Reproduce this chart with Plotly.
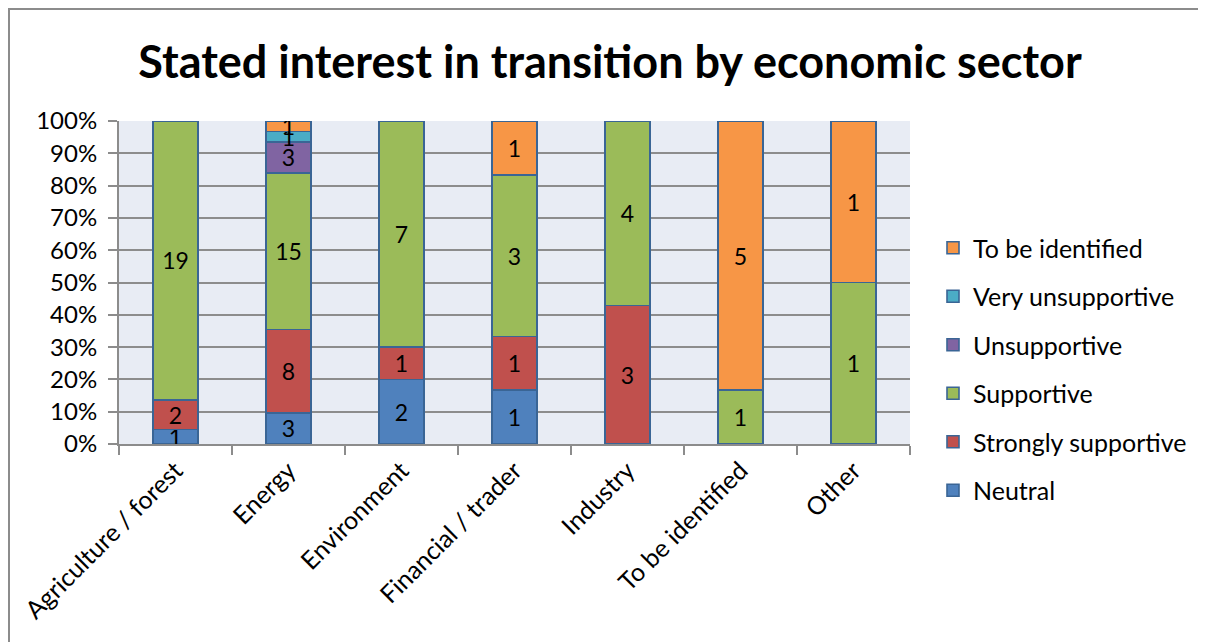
import plotly.graph_objects as go

categories = ["Agriculture / forest", "Energy", "Environment", "Financial / trader",
              "Industry", "To be identified", "Other"]
series_names = ["Neutral", "Strongly supportive", "Supportive", "Unsupportive",
                "Very unsupportive", "To be identified"]
neutral = [1, 3, 2, 1, 0, 0, 0]
strongly_supportive = [2, 8, 1, 1, 3, 0, 0]
supportive = [19, 15, 7, 3, 4, 1, 1]
unsupportive = [0, 3, 0, 0, 0, 0, 0]
very_unsupportive = [0, 1, 0, 0, 0, 0, 0]
to_be_identified = [0, 1, 0, 1, 0, 5, 1]
series_values = [neutral, strongly_supportive, supportive, unsupportive,
                 very_unsupportive, to_be_identified]
colors = ["#4F81BD", "#C0504D", "#9BBB59", "#8064A2", "#4BACC6", "#F79646"]

FONT = "Lato"
fig = go.Figure()
for i, (name, vals, col) in enumerate(zip(series_names, series_values, colors)):
    fig.add_trace(go.Bar(
        x=categories,
        y=[v if v else None for v in vals],
        name=name,
        legendgroup=name,
        legendrank=100 - i,
        marker=dict(color=col, line=dict(color="#3A6595", width=1.6)),
        text=[str(v) if v else "" for v in vals],
        textposition="inside",
        insidetextanchor="middle",
        constraintext="none",
        textangle=0,
        textfont=dict(family=FONT, size=23, color="black"),
        width=0.4,
        hoverinfo="name+y",
    ))

# page offset of the figure (body margin) is 8px
O = 8
W, H = 1198, 634
L, T = 119 - O, 121 - O
R = W - (910 - O)
B = H - (444 - O)
pw, ph = W - L - R, H - T - B

def px(x):  # page x -> paper
    return (x - O - L) / pw

def py(y):  # page y -> paper
    return (H - B - (y - O)) / ph

fig.update_layout(
    width=W, height=H,
    barmode="stack", barnorm="fraction",
    margin=dict(l=L, r=R, t=T, b=B, autoexpand=False),
    paper_bgcolor="white", plot_bgcolor="#E8ECF4",
    title=dict(text="<b>Stated interest in transition by economic sector</b>",
               x=(610 - O) / W, xanchor="center", y=(H - (62 - O)) / H, yanchor="middle",
               font=dict(family=FONT, size=45, color="black")),
    font=dict(family=FONT, size=23, color="black"),
    showlegend=True,
    legend=dict(x=px(933), xanchor="left", y=py(369), yanchor="middle",
                traceorder="grouped", tracegroupgap=13,
                font=dict(family=FONT, size=25, color="black"),
                bgcolor="rgba(0,0,0,0)"),
    xaxis=dict(showline=True, linecolor="#8C8C8C", linewidth=2,
               ticks="outside", tickson="boundaries", ticklen=9, tickcolor="#8C8C8C",
               tickwidth=2, tickangle=-45, tickfont=dict(family=FONT, size=25),
               showgrid=False),
    yaxis=dict(range=[0, 1], dtick=0.1, tickformat=".0%",
               showline=True, linecolor="#8C8C8C", linewidth=2,
               ticks="outside", ticklen=9, tickcolor="#8C8C8C", tickwidth=2,
               ticklabelstandoff=6,
               showgrid=True, gridcolor="#8C8C8C", gridwidth=2,
               tickfont=dict(family=FONT, size=24), zeroline=False),
    shapes=[
        dict(type="line", xref="paper", yref="paper", x0=px(7), x1=px(1206),
             y0=py(9), y1=py(9), line=dict(color="#8C8C8C", width=2)),
        dict(type="line", xref="paper", yref="paper", x0=px(9), x1=px(9),
             y0=py(9), y1=py(642), line=dict(color="#8C8C8C", width=2)),
    ],
)

fig.write_html("out.html")
